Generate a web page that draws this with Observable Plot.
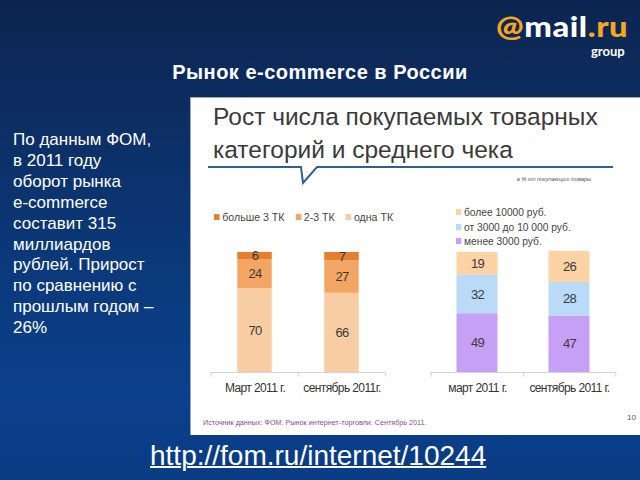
<!DOCTYPE html>
<html>
<head>
<meta charset="utf-8">
<script src="https://cdn.jsdelivr.net/npm/d3@7"></script>
<script src="https://cdn.jsdelivr.net/npm/@observablehq/plot@0.6"></script>
<style>
  html, body { margin: 0; padding: 0; }
  #slide {
    position: relative; width: 640px; height: 480px; overflow: hidden;
    background: linear-gradient(to bottom, #0c2550 0%, #0c2c5f 20%, #0b3776 50%, #0b408c 82%, #0a3c84 100%);
    font-family: "Liberation Sans", Arial, sans-serif;
  }
  .abs { position: absolute; white-space: nowrap; }
  #logo { left: 496px; top: 9px; font-family: "Lato", "Open Sans", sans-serif; font-weight: 900; font-size: 28px; color: #fff; letter-spacing: 0.5px; transform-origin: left center; }
  #logo .o { color: #f5a623; }
  #group { left: 591px; top: 43px; font-family: "Lato", sans-serif; font-weight: 700; font-size: 13px; color: #fff; }
  #title { left: 0; width: 640px; text-align: center; top: 61px; font-weight: bold; font-size: 20px; letter-spacing: 0.5px; color: #fff; }
  #lefttext { left: 13px; top: 130px; font-size: 17px; line-height: 20.9px; color: #fff; white-space: normal; width: 175px; }
  #panel { left: 190px; top: 97px; width: 450px; height: 338px; background: #fff; box-shadow: inset 1px 1px 0 #9aa6b8; }
  #ptitle { left: 213px; top: 100px; font-size: 24.5px; line-height: 33px; color: #3a3a3a; }
  #note { left: 517px; top: 176px; font-size: 5.5px; font-style: italic; color: #555; }
  .legend { font-size: 11.5px; color: #444; transform-origin: left top; }
  .sw { display: inline-block; width: 6px; height: 6px; margin-right: 3px; vertical-align: 1px; }
  #leg1 { left: 214px; top: 211px; transform: scaleX(0.92); }
  #leg1 span.item { margin-right: 12px; }
  #leg2 { left: 456px; top: 205px; line-height: 14.5px; transform: scaleX(0.89); }
  #source { left: 203px; top: 418px; font-size: 7.2px; color: #8a4a8a; }
  #pagenum { left: 627px; top: 413px; font-size: 8px; color: #555; }
  #url { left: 150px; top: 440px; font-size: 28px; color: #fff; text-decoration: underline; text-decoration-thickness: 1.5px; }
  #chart1 { left: 205px; top: 240px; }
  #chart2 { left: 425px; top: 240px; }
</style>
</head>
<body>
<div id="slide">
  <div id="panel" class="abs"></div>
  <div id="logo" class="abs"><span class="o">@</span>mail<span class="o">.ru</span></div>
  <div id="group" class="abs">group</div>
  <div id="title" class="abs">Рынок e-commerce в России</div>
  <div id="lefttext" class="abs">По данным ФОМ,<br>в 2011 году<br>оборот рынка<br>e-commerce<br>составит 315<br>миллиардов<br>рублей. Прирост<br>по сравнению с<br>прошлым годом –<br>26%</div>
  <div id="ptitle" class="abs">Рост числа покупаемых товарных<br>категорий и среднего чека</div>
  <svg class="abs" style="left:0;top:0" width="640" height="480">
    <polyline points="208,167 301,167 303,183 317,167 613,167" fill="none" stroke="#2f5d9a" stroke-width="2"/>
  </svg>
  <div id="note" class="abs">в % от покупающих товары</div>
  <div id="leg1" class="abs legend"></div>
  <div id="leg2" class="abs legend"></div>
  <div id="chart1" class="abs"></div>
  <div id="chart2" class="abs"></div>
  <div id="source" class="abs">Источник данных: ФОМ. Рынок интернет-торговли. Сентябрь 2011.</div>
  <div id="pagenum" class="abs">10</div>
  <div id="url" class="abs">http://fom.ru/internet/10244</div>
</div>
<script>
// ---- Data: chart 1 (number of product categories) ----
const periods1 = ["Март 2011 г.", "сентябрь 2011г."];
const groups1 = ["одна ТК", "2-3 ТК", "больше 3 ТК"];      // stacked bottom → top
const odnaTK = [70, 66];
const dvaTriTK = [24, 27];
const bolshe3TK = [6, 7];
const colors1 = ["#f9cda3", "#f3a564", "#e47f2d"];
const legendOrder1 = ["больше 3 ТК", "2-3 ТК", "одна ТК"];

// ---- Data: chart 2 (average check) ----
const periods2 = ["март 2011 г.", "сентябрь 2011 г."];
const groups2 = ["менее 3000 руб.", "от 3000 до 10 000 руб.", "более 10000 руб."]; // bottom → top
const menee3000 = [49, 47];
const ot3000do10000 = [32, 28];
const bolee10000 = [19, 26];
const colors2 = ["#c6a0f4", "#badbf8", "#fcd3a5"];
const legendOrder2 = ["более 10000 руб.", "от 3000 до 10 000 руб.", "менее 3000 руб."];

const series1 = [odnaTK, dvaTriTK, bolshe3TK];
const table1 = [];
groups1.forEach((g, gi) => periods1.forEach((p, pi) => table1.push({period: p, group: g, value: series1[gi][pi]})));
const series2 = [menee3000, ot3000do10000, bolee10000];
const table2 = [];
groups2.forEach((g, gi) => periods2.forEach((p, pi) => table2.push({period: p, group: g, value: series2[gi][pi]})));

function stacked(table, periods, groups, colors, width, inset) {
  const step = (width - 10) / periods.length;
  return Plot.plot({
    width, height: 158,
    marginLeft: 5, marginRight: 5, marginTop: 12, marginBottom: 26,
    style: {fontFamily: '"Liberation Sans", Arial, sans-serif', fontSize: "12px", letterSpacing: "-0.6px", color: "#333", background: "transparent", overflow: "visible"},
    x: {domain: periods, padding: 0, label: null, tickSize: 0, tickPadding: 11},
    y: {domain: [0, 100], axis: null},
    color: {domain: groups, range: colors},
    marks: [
      Plot.barY(table, Plot.stackY({x: "period", y: "value", fill: "group", insetLeft: inset, insetRight: inset})),
      Plot.text(table, Plot.stackY({x: "period", y: "value", text: "value", fill: "#3a3a3a", fontSize: 13})),
      Plot.ruleY([0], {stroke: "#d4d4d4"}),
      Plot.ruleX(periods, {x: d => d, dx: -step / 2, y1: 0, y2: -4, stroke: "#d4d4d4"}),
      Plot.ruleX([periods[periods.length - 1]], {x: d => d, dx: step / 2, y1: 0, y2: -4, stroke: "#d4d4d4"})
    ]
  });
}

document.getElementById("chart1").appendChild(stacked(table1, periods1, groups1, colors1, 185, 26.25));
document.getElementById("chart2").appendChild(stacked(table2, periods2, groups2, colors2, 195, 25.5));

function legend(el, order, groups, colors, vertical) {
  const node = document.getElementById(el);
  order.forEach(g => {
    const item = document.createElement(vertical ? "div" : "span");
    item.className = "item";
    const sw = document.createElement("span");
    sw.className = "sw";
    sw.style.background = colors[groups.indexOf(g)];
    item.appendChild(sw);
    item.appendChild(document.createTextNode(g));
    node.appendChild(item);
  });
}
legend("leg1", legendOrder1, groups1, colors1, false);
legend("leg2", legendOrder2, groups2, colors2, true);

// fit the logo to its width in the reference (about 132px)
const logo = document.getElementById("logo");
const lw = logo.offsetWidth;
if (lw > 0) logo.style.transform = `scaleX(${132 / lw})`;
</script>
</body>
</html>
